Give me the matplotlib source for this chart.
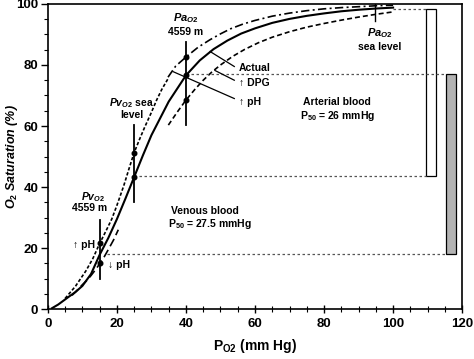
"""Oxygen-haemoglobin dissociation curves, sea level vs 4559 m."""

import matplotlib
matplotlib.use("Agg")
import matplotlib.pyplot as plt

# ---- data ----
actual_x = [1.2, 3, 6, 8, 10, 12.5, 15, 17.5, 20, 22.5, 25, 27.5, 30, 35, 40, 44, 48,
            52, 56, 60, 65, 70, 75, 80, 85, 90, 95, 100]
actual_y = [0.3, 1.5, 4, 5.6, 7.6, 11.5, 17.8, 23.3, 29.5, 36.3, 43.3, 50.3, 57, 68,
            76.6, 81.5, 85.2, 88, 90.3, 92, 93.8, 95.1, 96.1, 96.9, 97.6, 98.1, 98.5, 98.8]

# venous, pH up (left shift, dotted)
ph_up_ven_x = [5, 8, 11, 13, 15, 17, 18.5, 20, 22, 23.5, 25, 26.5, 28, 30, 31.5, 33, 34.8]
ph_up_ven_y = [3.5, 7.5, 12.5, 16.5, 21.5, 26, 29.5, 34, 40.5, 46, 51.3, 55.5, 59.5,
               64.5, 68.5, 72, 75.5]

# arterial, pH up (left shift, dash-dot)
ph_up_art_x = [34.8, 37, 40, 43.5, 47, 50, 53, 56.5, 60, 65, 70, 75, 80, 85, 90, 95, 100]
ph_up_art_y = [76, 79.6, 82.6, 85.8, 88.3, 90.2, 91.9, 93.4, 94.6, 96, 97, 97.8, 98.4,
               98.8, 99.1, 99.4, 99.6]

# venous, pH down (right shift, long dash)
ph_dn_ven_x = [7, 8.5, 10, 11.3, 12.5, 13.8, 15.1, 16.3, 17.5, 19, 20.4]
ph_dn_ven_y = [4.5, 6.2, 8, 9.4, 11, 12.9, 15, 17.1, 19.5, 22.6, 26]

# arterial, DPG up (right shift, dashed)
dpg_x = [34.9, 37.5, 40, 42.5, 45, 47.5, 50, 53.5, 57, 61, 65, 70, 75, 80, 85, 90, 95, 100]
dpg_y = [60.3, 64.6, 68.5, 71.9, 75, 77.7, 80, 82.8, 85.1, 87.3, 89.1, 90.9, 92.4, 93.6,
         94.7, 95.7, 96.6, 97.4]

# measured points
pa_alt_x, pa_alt_y = [40, 40, 40], [82.6, 76.6, 68.5]
pv_sea_x, pv_sea_y = [25, 25], [51.3, 43.3]
pv_alt_x, pv_alt_y = [15.1, 15.1], [21.5, 15]

# saturation ranges shown as bars
art_bar = (43.6, 98.4)
ven_bar = (18, 77.2)

plt.rcParams["font.family"] = ["Liberation Sans", "DejaVu Sans"]
plt.rcParams["font.weight"] = "bold"
plt.rcParams["mathtext.fontset"] = "custom"
plt.rcParams["mathtext.rm"] = "Liberation Sans:bold"
plt.rcParams["mathtext.bf"] = "Liberation Sans:bold"
plt.rcParams["mathtext.it"] = "Liberation Sans:bold:italic"

fig = plt.figure(figsize=(4.74, 3.59), dpi=100)
ax = fig.add_axes([0.101, 0.139, 0.874, 0.850])

# curves
ax.plot(actual_x, actual_y, color="black", lw=1.5)
ax.plot(ph_up_ven_x, ph_up_ven_y, color="black", lw=1.2, ls=(0, (2, 1.2)))
ax.plot(ph_up_art_x, ph_up_art_y, color="black", lw=1.2, ls=(0, (5, 2, 1.2, 2)))
ax.plot(ph_dn_ven_x, ph_dn_ven_y, color="black", lw=1.2, ls=(0, (5, 2.5)))
ax.plot(dpg_x, dpg_y, color="black", lw=1.2, ls=(0, (3, 1.8)))

# guide lines
guide = dict(color="#555555", lw=0.9, ls=(0, (2, 2)))
ax.plot([100, 109.6], [art_bar[1], art_bar[1]], **guide)
ax.plot([40, 115.4], [ven_bar[1], ven_bar[1]], **guide)
ax.plot([25, 109.6], [art_bar[0], art_bar[0]], **guide)
ax.plot([17, 115.4], [ven_bar[0], ven_bar[0]], **guide)

# vertical markers with points
ax.plot([40, 40], [60.3, 87.5], color="black", lw=1.3)
ax.plot([25, 25], [35.2, 60.3], color="black", lw=1.3)
ax.plot([15.1, 15.1], [9.7, 29.2], color="black", lw=1.3)
ax.plot([94.8, 94.8], [94.3, 101], color="black", lw=1.0)
for xs, ys in [(pa_alt_x, pa_alt_y), (pv_sea_x, pv_sea_y), (pv_alt_x, pv_alt_y)]:
    ax.plot(xs, ys, "o", color="black", ms=3.3)

# leader lines to labels
ax.plot([47, 54], [84.4, 79.5], color="black", lw=0.9)
ax.plot([48.4, 54], [78.2, 75], color="black", lw=0.9)
ax.plot([36.3, 54], [77.8, 69], color="black", lw=0.9)

# range bars
ax.bar(111.05, art_bar[1] - art_bar[0], bottom=art_bar[0], width=2.9,
       facecolor="white", edgecolor="black", lw=0.9)
ax.bar(116.85, ven_bar[1] - ven_bar[0], bottom=ven_bar[0], width=2.9,
       facecolor="#b3b3b3", edgecolor="black", lw=0.9)

# annotations
fs = 7.5
ax.text(40, 95.4, r"$\mathit{Pa}_{\mathit{O2}}$", ha="center", va="center", fontsize=fs + 0.5)
ax.text(40, 90.8, "4559 m", ha="center", va="center", fontsize=fs)
ax.text(96.2, 90.5, r"$\mathit{Pa}_{\mathit{O2}}$", ha="center", va="center", fontsize=fs + 0.5)
ax.text(96.2, 85.9, "sea level", ha="center", va="center", fontsize=fs)
ax.text(24.3, 67.5, r"$\mathit{Pv}_{\mathit{O2}}$ sea", ha="center", va="center", fontsize=fs)
ax.text(24.3, 63.6, "level", ha="center", va="center", fontsize=fs)
ax.text(13.2, 36.6, r"$\mathit{Pv}_{\mathit{O2}}$", ha="center", va="center", fontsize=fs)
ax.text(12.2, 33.1, "4559 m", ha="center", va="center", fontsize=fs)
ax.text(13.6, 21, "\u2191 pH", ha="right", va="center", fontsize=fs)
ax.text(17.4, 14.4, "\u2193 pH", ha="left", va="center", fontsize=fs)
ax.text(55.4, 79, "Actual", ha="left", va="center", fontsize=fs)
ax.text(55.4, 74.1, "\u2191 DPG", ha="left", va="center", fontsize=fs)
ax.text(55.4, 67.9, "\u2191 pH", ha="left", va="center", fontsize=fs)
ax.text(83.8, 67.9, "Arterial blood", ha="center", va="center", fontsize=fs)
ax.text(83.8, 63.3, r"P$_{50}$ = 26 mmHg", ha="center", va="center", fontsize=fs)
ax.text(45.5, 32.1, "Venous blood", ha="center", va="center", fontsize=fs)
ax.text(47, 27.9, r"P$_{50}$ = 27.5 mmHg", ha="center", va="center", fontsize=fs)

# axes
ax.set_xlim(0, 120)
ax.set_ylim(0, 100)
ax.set_xticks(range(0, 121, 20))
ax.set_xticks(range(0, 121, 5), minor=True)
ax.set_yticks(range(0, 101, 20))
ax.set_yticks(range(0, 101, 5), minor=True)
ax.tick_params(axis="x", which="major", direction="inout", length=6, width=1, labelsize=9.5)
ax.tick_params(axis="x", which="minor", direction="inout", length=4, width=0.8)
ax.tick_params(axis="y", which="major", direction="out", length=5, width=1, labelsize=9.5, pad=2)
ax.tick_params(axis="y", which="minor", direction="out", length=3, width=0.8)
for lab in ax.get_xticklabels() + ax.get_yticklabels():
    lab.set_fontweight("bold")
for sp in ax.spines.values():
    sp.set_linewidth(1.2)

ax.set_xlabel(r"P$_{\mathrm{O2}}$ (mm Hg)", fontsize=10, fontweight="bold", labelpad=5)
ax.set_ylabel(r"O$_2$ Saturation (%)", fontsize=9, fontweight="bold", style="italic")
ax.yaxis.set_label_coords(-0.068, 0.5)

fig.savefig("out.png", dpi=100)
